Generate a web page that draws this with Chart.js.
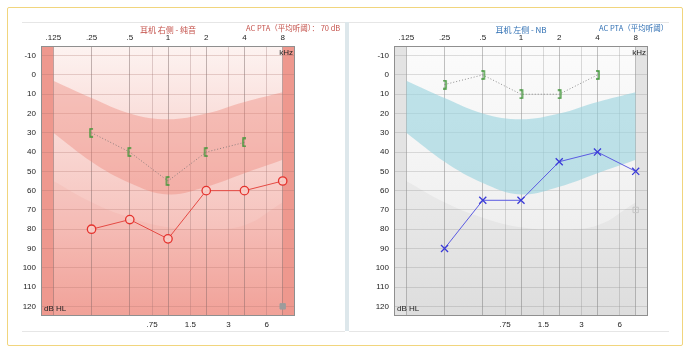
<!DOCTYPE html>
<html>
<head>
<meta charset="utf-8">
<script src="https://cdn.jsdelivr.net/npm/chart.js@4.4.0/dist/chart.umd.min.js"></script>
<style>
  html, body { margin: 0; padding: 0; background: #fff; width: 691px; height: 354px; overflow: hidden; }
  #frame { position: absolute; left: 7px; top: 7px; width: 676px; height: 339px; border: 1px solid #f1d57d; border-radius: 2px; box-sizing: border-box; }
  .panel { position: absolute; top: 22px; height: 310px; border-top: 1px solid #e6e6e6; border-bottom: 1px solid #e6e6e6; box-sizing: border-box; background: #fff; }
  #divider { position: absolute; left: 345px; top: 22px; width: 4px; height: 309px; background: #dde7eb; }
  canvas { position: absolute; }
</style>
</head>
<body>
<div id="frame"></div>
<div class="panel" style="left:22px;width:323px"></div>
<div class="panel" style="left:349px;width:320px"></div>
<div id="divider"></div>
<canvas id="right-ear" style="left:22px;top:22px" width="323" height="309"></canvas>
<canvas id="left-ear" style="left:375px;top:22px" width="295" height="309"></canvas>
<script>
  // axes
  const octaveFreqs = [0.125, 0.25, 0.5, 1, 2, 4, 8];
  const topTickLabels = ['.125', '.25', '.5', '1', '2', '4', '8'];
  const gridFreqs = [0.125, 0.25, 0.5, 0.75, 1, 1.5, 2, 3, 4, 6, 8];
  const bottomTickFreqs = [0.75, 1.5, 3, 6];
  const bottomTickLabels = ['.75', '1.5', '3', '6'];
  const dbTicks = [-10, 0, 10, 20, 30, 40, 50, 60, 70, 80, 90, 100, 110, 120];

  // shaded zones (dB HL at each octave)
  const bandUpper = [3, 12, 20, 23, 20, 14, 9];
  const bandLower = [30, 45, 56, 62, 58, 51, 44];
  const deepZone = [55, 66, 74, 79, 80, 78, 66];

  // right ear (耳机 右侧 - 纯音)
  const airFreqs = [0.25, 0.5, 1, 2, 4, 8];
  const rightAir = [80, 75, 85, 60, 60, 55];
  const boneFreqs = [0.25, 0.5, 1, 2, 4];
  const rightBone = [30, 40, 55, 40, 35];
  const rightExtraFreq = [8];
  const rightExtraLevel = [120];

  // left ear (耳机 左侧 - NB)
  const leftAir = [90, 65, 65, 45, 40, 50];
  const leftBone = [5, 0, 10, 10, 0];
  const leftExtraFreq = [8];
  const leftExtraLevel = [70];

  function pts(xs, ys) {
    return xs.map((x, i) => ({ x: x, y: ys[i] }));
  }

  function bracket(open, color) {
    const c = document.createElement('canvas');
    c.width = 7;
    c.height = 10;
    const g = c.getContext('2d');
    g.strokeStyle = color;
    g.lineWidth = 1.4;
    g.beginPath();
    if (open === '[') {
      g.moveTo(5, 1); g.lineTo(2, 1); g.lineTo(2, 9); g.lineTo(5, 9);
    } else {
      g.moveTo(2, 1); g.lineTo(5, 1); g.lineTo(5, 9); g.lineTo(2, 9);
    }
    g.stroke();
    return c;
  }

  const decor = {
    id: 'decor',
    beforeDraw(chart, args, o) {
      const ctx = chart.ctx;
      const ca = chart.chartArea;
      const x = chart.scales.x;
      const grad = ctx.createLinearGradient(0, ca.top, 0, ca.bottom);
      o.bg.forEach((c, i) => grad.addColorStop(i / (o.bg.length - 1), c));
      ctx.save();
      ctx.fillStyle = grad;
      ctx.fillRect(ca.left, ca.top, ca.width, ca.height);
      const x0 = x.getPixelForValue(0.125);
      const x1 = x.getPixelForValue(8);
      ctx.fillStyle = o.strip;
      ctx.fillRect(ca.left, ca.top, x0 - ca.left, ca.height);
      ctx.fillRect(x1, ca.top, ca.right - x1, ca.height);
      ctx.restore();
    },
    afterDraw(chart, args, o) {
      const ctx = chart.ctx;
      const ca = chart.chartArea;
      ctx.save();
      ctx.strokeStyle = '#8f8f8f';
      ctx.lineWidth = 1;
      ctx.strokeRect(ca.left + 0.5, ca.top + 0.5, ca.width - 1, ca.height - 1);
      ctx.textBaseline = 'middle';
      ctx.fillStyle = o.titleColor;
      ctx.font = '8px "Noto Sans CJK SC", sans-serif';
      ctx.textAlign = 'center';
      ctx.fillText(o.title, (ca.left + ca.right) / 2, 8);
      ctx.font = '7.5px "Noto Sans CJK SC", sans-serif';
      ctx.textAlign = 'left';
      ctx.fillText(o.pta, ca.right - 49, 6);
      ctx.fillStyle = '#222';
      ctx.font = '8px "Liberation Sans", sans-serif';
      ctx.textAlign = 'right';
      ctx.fillText('kHz', ca.right - 2, ca.top + 7);
      ctx.textAlign = 'left';
      ctx.fillText('dB HL', ca.left + 3, ca.bottom - 7);
      ctx.restore();
    }
  };

  function makeChart(id, cfg) {
    const tickFont = { family: '"Liberation Sans", sans-serif', size: 8 };
    const datasets = [
      { data: pts(octaveFreqs, deepZone), fill: { value: 125 }, backgroundColor: cfg.deepFill,
        borderWidth: 0, pointRadius: 0, tension: 0.4, order: 12 },
      { data: pts(octaveFreqs, bandUpper), fill: '+1', backgroundColor: cfg.bandFill,
        borderWidth: 0, pointRadius: 0, tension: 0.4, order: 11 },
      { data: pts(octaveFreqs, bandLower), fill: false,
        borderWidth: 0, pointRadius: 0, tension: 0.4, order: 11 },
      { data: pts(boneFreqs, cfg.bone), borderColor: 'rgba(110,110,110,0.75)', borderWidth: 1,
        borderDash: [1, 2], pointStyle: bracket(cfg.bracket, '#3f9637'), pointRadius: 5, order: 3 },
      { data: pts(airFreqs, cfg.air), borderColor: cfg.lineColor, borderWidth: 1,
        pointStyle: cfg.marker, pointRadius: cfg.markRadius, pointBorderWidth: 1.3,
        pointBorderColor: cfg.markColor, pointBackgroundColor: cfg.markFill, order: 2 },
      { data: pts(cfg.extraFreq, cfg.extraLevel), showLine: false, pointStyle: 'rect',
        pointRadius: 3.8, pointBorderWidth: 1, pointBorderColor: cfg.extraBorder,
        pointBackgroundColor: cfg.extraFill, order: 1 }
    ];

    return new Chart(document.getElementById(id), {
      type: 'line',
      data: { datasets: datasets },
      plugins: [decor],
      options: {
        responsive: false,
        animation: false,
        layout: { padding: { right: cfg.padRight, left: 0, top: 0, bottom: 0 } },
        plugins: {
          legend: { display: false },
          tooltip: { enabled: false },
          decor: { bg: cfg.bg, strip: cfg.strip, title: cfg.title, pta: cfg.pta, titleColor: cfg.titleColor }
        },
        scales: {
          x: {
            type: 'logarithmic', position: 'top', min: 0.1, max: 10,
            afterBuildTicks: (s) => { s.ticks = gridFreqs.map((v) => ({ value: v })); },
            afterFit: (s) => { s.height = 24; },
            ticks: {
              autoSkip: false, maxRotation: 0, padding: 3, color: '#222', font: tickFont,
              callback: (v) => { const i = octaveFreqs.indexOf(v); return i >= 0 ? topTickLabels[i] : ''; }
            },
            grid: {
              drawTicks: false,
              color: (c) => octaveFreqs.indexOf(c.tick.value) >= 0 ? cfg.gridMajor : cfg.gridMinor
            },
            border: { display: false }
          },
          x2: {
            type: 'logarithmic', position: 'bottom', min: 0.1, max: 10,
            afterBuildTicks: (s) => { s.ticks = bottomTickFreqs.map((v) => ({ value: v })); },
            afterFit: (s) => { s.height = 15; },
            ticks: {
              autoSkip: false, maxRotation: 0, padding: 4, color: '#222', font: tickFont,
              callback: (v) => bottomTickLabels[bottomTickFreqs.indexOf(v)]
            },
            grid: { display: false, drawTicks: false },
            border: { display: false }
          },
          y: {
            type: 'linear', reverse: true, min: -15, max: 125,
            afterBuildTicks: (s) => { s.ticks = dbTicks.map((v) => ({ value: v })); },
            afterFit: (s) => { s.width = 19; },
            ticks: { padding: 5, color: '#222', font: tickFont },
            grid: { drawTicks: false, color: cfg.gridH },
            border: { display: false }
          }
        }
      }
    });
  }

  makeChart('right-ear', {
    title: '耳机 右侧 - 纯音',
    pta: 'AC PTA（平均听阈）： 70 dB',
    titleColor: '#c4514a',
    bg: ['#fdf3f1', '#f9d9d5', '#f6c3bd', '#f2a69d'],
    strip: '#ee988e',
    bandFill: 'rgba(236,128,116,0.38)',
    deepFill: 'rgba(236,128,116,0.10)',
    gridMajor: 'rgba(120,100,100,0.45)',
    gridMinor: 'rgba(150,110,110,0.3)',
    gridH: 'rgba(170,110,105,0.28)',
    air: rightAir, bone: rightBone, bracket: '[',
    marker: 'circle', markRadius: 4.2, markColor: '#e5322d', markFill: 'rgba(248,205,199,0.9)', lineColor: '#e54a44',
    extraFreq: rightExtraFreq, extraLevel: rightExtraLevel,
    extraFill: '#9c9c9c', extraBorder: '#9c9c9c',
    padRight: 50
  });

  makeChart('left-ear', {
    title: '耳机 左侧 - NB',
    pta: 'AC PTA（平均听阈）',
    titleColor: '#2f6fb3',
    bg: ['#fbfbfb', '#f6f6f6', '#efefef', '#e6e6e6'],
    strip: '#e3e3e3',
    bandFill: 'rgba(150,210,222,0.6)',
    deepFill: 'rgba(0,0,0,0.035)',
    gridMajor: 'rgba(120,120,120,0.45)',
    gridMinor: 'rgba(140,140,140,0.3)',
    gridH: 'rgba(150,150,150,0.3)',
    air: leftAir, bone: leftBone, bracket: ']',
    marker: 'crossRot', markRadius: 5, markColor: '#3a3ad8', markFill: 'transparent', lineColor: '#5b5be2',
    extraFreq: leftExtraFreq, extraLevel: leftExtraLevel,
    extraFill: 'transparent', extraBorder: '#c6c6c6',
    padRight: 22
  });
</script>
</body>
</html>
